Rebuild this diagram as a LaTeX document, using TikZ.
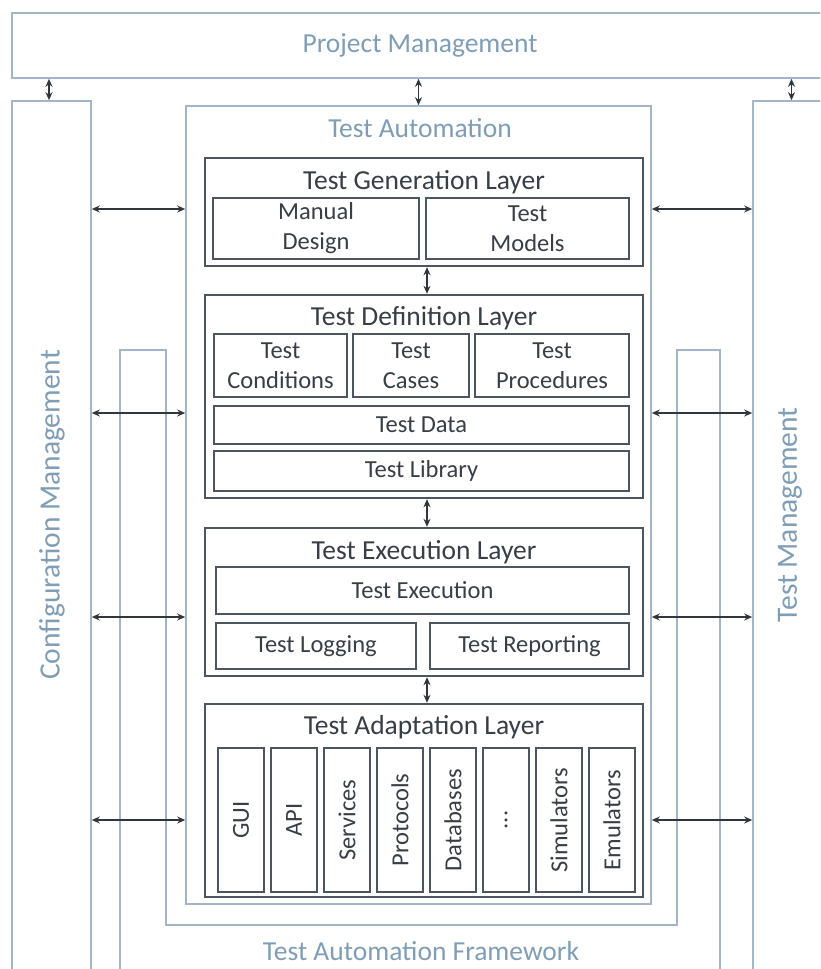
\documentclass[tikz,border=0pt]{standalone}
\usepackage{fontspec}
\setmainfont{Carlito}
\usetikzlibrary{arrows.meta}
\definecolor{outerc}{HTML}{A3B6C8}
\definecolor{labc}{HTML}{7F9EB6}
\definecolor{darkc}{HTML}{4B5661}
\definecolor{txtc}{HTML}{373E45}
\definecolor{arrc}{HTML}{30363C}
\tikzset{
  outerbox/.style={draw=outerc, line width=1.6pt, inner sep=0pt},
  outerlab/.style={text=labc, font=\fontsize{27.5}{32}\selectfont, inner sep=0pt},
  vertlab/.style={outerlab, rotate=90, font=\fontsize{29.5}{34}\selectfont},
  laybox/.style={draw=darkc, line width=2.4pt, inner sep=0pt},
  laytitle/.style={text=txtc, font=\fontsize{27.5}{32}\selectfont, inner sep=0pt},
  inbox/.style={draw=darkc, line width=2pt, inner sep=0pt, text=txtc, align=center,
     font=\fontsize{24.5}{30}\selectfont},
  colbox/.style={inbox, rotate=90, minimum width=144pt, minimum height=46pt},
  dbl/.style={arrc, line width=1.4pt, {Stealth[length=8pt,width=7pt]}-{Stealth[length=8pt,width=7pt]}}
}
\begin{document}
\begin{tikzpicture}[x=1pt,y=-1pt]
\useasboundingbox (0,0) rectangle (820,969);
\clip (0,0) rectangle (820,969);
\fill[white] (0,0) rectangle (820,969);
% outer boxes
\node[outerbox, minimum width=828pt, minimum height=65pt] (pm) at (426,45.5) {};
\node[outerlab] (pmlab) at (420,45) {Project Management};
\node[outerbox, minimum width=79pt, minimum height=899pt] (cm) at (51.5,550.5) {};
\node[vertlab] (cmlab) at (52,515) {Configuration Management};
\node[outerbox, minimum width=77pt, minimum height=899pt] (tm) at (791.5,550.5) {};
\node[vertlab] (tmlab) at (790,515) {Test Management};
% framework
\draw[outerc, line width=1.6pt] (120,1000) -- (120,350) -- (166,350) -- (166,925) -- (677,925) -- (677,350) -- (720,350) -- (720,1000);
\node[outerlab] (taflab) at (421,951) {Test Automation Framework};
% test automation
\node[outerbox, fill=white, minimum width=465pt, minimum height=798pt] (ta) at (418.5,505) {};
\node[outerlab] (talab) at (420,128) {Test Automation};
% layers
\node[laybox, minimum width=438pt, minimum height=108pt] (gen) at (424,212) {};
\node[laytitle] (gent) at (424,182) {Test Generation Layer};
\node[laybox, minimum width=438pt, minimum height=203pt] (def) at (424,396.5) {};
\node[laytitle] (deft) at (424,318) {Test Definition Layer};
\node[laybox, minimum width=438pt, minimum height=148pt] (exe) at (424,602) {};
\node[laytitle] (exet) at (424,552) {Test Execution Layer};
\node[laybox, minimum width=438pt, minimum height=193pt] (ada) at (424,800.5) {};
\node[laytitle] (adat) at (424,727) {Test Adaptation Layer};
% generation
\node[inbox, minimum width=206pt, minimum height=61pt] (md) at (316,228.5) {Manual\\Design};
\node[inbox, minimum width=203pt, minimum height=61pt] (tmo) at (527.5,228.5) {Test\\Models};
% definition
\node[inbox, minimum width=133pt, minimum height=63pt] (tco) at (280.5,365.5) {Test\\Conditions};
\node[inbox, minimum width=116pt, minimum height=63pt] (tca) at (411,365.5) {Test\\Cases};
\node[inbox, minimum width=154pt, minimum height=63pt] (tpr) at (552,365.5) {Test\\Procedures};
\node[inbox, minimum width=415pt, minimum height=38pt] (tda) at (421.5,425) {Test Data};
\node[inbox, minimum width=415pt, minimum height=40pt] (tli) at (421.5,471) {Test Library};
% execution
\node[inbox, minimum width=413pt, minimum height=47pt] (tex) at (422.5,590.5) {Test Execution};
\node[inbox, minimum width=200pt, minimum height=46pt] (tlo) at (316,646) {Test Logging};
\node[inbox, minimum width=199pt, minimum height=46pt] (tre) at (529.5,646) {Test Reporting};
% adaptation columns
\node[colbox] (c1) at (241,820) {GUI};
\node[colbox] (c2) at (294,820) {API};
\node[colbox] (c3) at (347,820) {Services};
\node[colbox] (c4) at (400,820) {Protocols};
\node[colbox] (c5) at (453,820) {Databases};
\node[colbox] (c6) at (506,820) {...};
\node[colbox] (c7) at (559,820) {Simulators};
\node[colbox] (c8) at (612,820) {Emulators};
% vertical arrows
\coordinate (vc) at (49,0);
\draw[dbl] (pm.south -| vc) -- (cm.north -| vc);
\draw[dbl] (pm.south -| ta.north) -- (ta.north);
\draw[dbl] (pm.south -| tm.north) -- (tm.north);
\coordinate (vx) at (427,0);
\draw[dbl] (gen.south -| vx) -- (def.north -| vx);
\draw[dbl] (def.south -| vx) -- (exe.north -| vx);
\draw[dbl] (exe.south -| vx) -- (ada.north -| vx);
% horizontal arrows
\foreach \yy [count=\i] in {209,413,617,820}{
  \coordinate (h\i) at (0,\yy);
  \draw[dbl] (cm.east |- h\i) -- (ta.west |- h\i);
  \draw[dbl] (ta.east |- h\i) -- (tm.west |- h\i);
}
\end{tikzpicture}
\end{document}
